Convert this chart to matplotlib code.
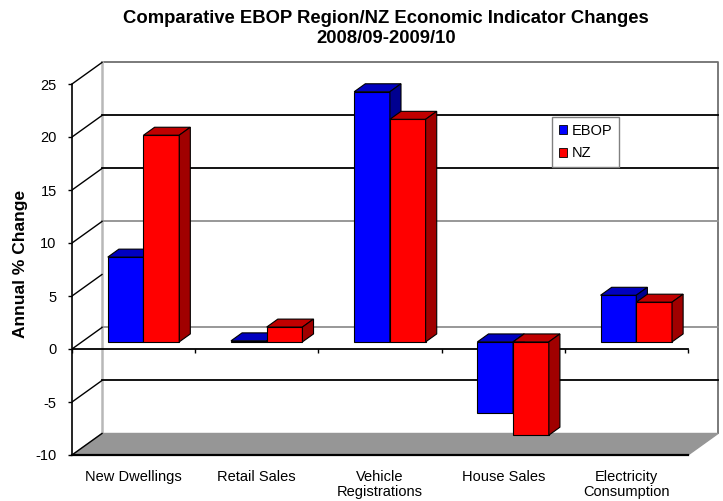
import numpy as np
import matplotlib
matplotlib.use("Agg")
import matplotlib.pyplot as plt
from matplotlib.patches import Patch

plt.rcParams['font.family'] = ['Liberation Sans', 'DejaVu Sans']
plt.rcParams['axes.unicode_minus'] = False

categories = ['New Dwellings', 'Retail Sales', 'Vehicle\nRegistrations',
              'House Sales', 'Electricity\nConsumption']
series_names = ['EBOP', 'NZ']
ebop = [8.0, 0.1, 23.6, -6.7, 4.4]
nz = [19.5, 1.4, 21.0, -8.8, 3.75]
yticks = [-10, -5, 0, 5, 10, 15, 20, 25]

# fake 3d box: depth offset in data units, bars sit between F0 and F1 of the depth
DX, DY = 0.2435, 2.03
F0, F1 = 0.33, 0.70
BAR_W = 0.29
BAR_START = 0.21
YMIN, YMAX = yticks[0], yticks[-1]

# front, top, side colours
colors = [('#0000ff', '#0000c0', '#000090'),
          ('#ff0000', '#c00000', '#a00000')]
# back wall grid lines look different in the original
grid_col = {-5: 'black', 0: '#909090', 10: '#909090', 15: 'black', 20: 'black'}

fig = plt.figure(figsize=(7.23, 5.01), dpi=100)
ax = fig.add_axes([72 / 723, 31 / 501, 651 / 723, 425 / 501])
ax.set_xlim(0, 651 / 123.2)
ax.set_ylim(-121 / 10.6, 304 / 10.6)
n = len(categories)

# back wall
ax.fill([DX, n + DX, n + DX, DX], [YMIN + DY, YMIN + DY, YMAX + DY, YMAX + DY],
        color='white', zorder=0)
ax.plot([DX, n + DX, n + DX], [YMAX + DY, YMAX + DY, YMIN + DY], color='#707070', lw=1.3, zorder=1)
ax.plot([DX, DX], [YMIN + DY, YMAX + DY], color='#b8b8b8', lw=1.8, zorder=1)
for v, c in grid_col.items():
    ax.plot([DX, n + DX], [v + DY, v + DY], color=c, lw=1.3, zorder=1)

# floor
ax.fill([0, n, n + DX, DX], [YMIN, YMIN, YMIN + DY, YMIN + DY], color='#969696', zorder=1)

# side wall diagonals
for v in yticks:
    ax.plot([0, DX], [v, v + DY], color='black', lw=1.0, zorder=1)

# category axis at zero
ax.plot([0, n], [0, 0], color='black', lw=1.3, zorder=2)
ax.vlines(np.arange(n + 1), -0.35, 0, color='black', lw=1.0, zorder=2)

# bars
d = F1 - F0
z = 3
for i in range(n):
    for j, vals in enumerate([ebop, nz]):
        front, top, side = colors[j]
        v = vals[i]
        x0 = i + BAR_START + j * BAR_W + F0 * DX
        base = F0 * DY
        hi = base + max(v, 0)
        lo = base + min(v, 0)
        ax.bar(x0, v, width=BAR_W, bottom=base, align='edge', color=front,
               edgecolor='black', lw=0.8, zorder=z)
        ax.fill([x0, x0 + BAR_W, x0 + BAR_W + d * DX, x0 + d * DX],
                [hi, hi, hi + d * DY, hi + d * DY],
                facecolor=top, edgecolor='black', lw=0.8, zorder=z)
        ax.fill([x0 + BAR_W, x0 + BAR_W + d * DX, x0 + BAR_W + d * DX, x0 + BAR_W],
                [lo, lo + d * DY, hi + d * DY, hi],
                facecolor=side, edgecolor='black', lw=0.8, zorder=z)
        z += 1

# axes
for s in ['top', 'right']:
    ax.spines[s].set_visible(False)
ax.spines['left'].set_bounds(YMIN, YMAX)
ax.spines['left'].set_linewidth(1.2)
ax.spines['bottom'].set_position(('data', YMIN))
ax.spines['bottom'].set_bounds(0, n)
ax.spines['bottom'].set_linewidth(1.6)
ax.set_yticks(yticks)
ax.tick_params(axis='y', direction='out', length=3, width=1, pad=8, labelsize=10.5)
ax.set_xticks(np.arange(n) + 0.5)
ax.set_xticklabels(categories, fontsize=10.5, linespacing=1.05)
ax.tick_params(axis='x', length=0, pad=11)

fig.text(386 / 723, 1 - 10 / 501,
         'Comparative EBOP Region/NZ Economic Indicator Changes\n2008/09-2009/10',
         ha='center', va='top', fontsize=13.3, fontweight='bold', linespacing=1.22)
fig.text(21 / 723, 1 - 264 / 501, 'Annual % Change', rotation=90,
         ha='center', va='center', fontsize=12.5, fontweight='bold')

handles = [Patch(facecolor=colors[k][0], edgecolor='black', lw=0.6) for k in range(2)]
fig.legend(handles, series_names, loc='upper left',
           bbox_to_anchor=(552 / 723, 1 - 117 / 501), fontsize=10.5,
           handlelength=0.6, handleheight=0.6, handletextpad=0.3,
           borderpad=0.45, labelspacing=0.6, borderaxespad=0,
           frameon=True, fancybox=False, edgecolor='#808080', framealpha=1)

fig.savefig('out.png', dpi=100)
